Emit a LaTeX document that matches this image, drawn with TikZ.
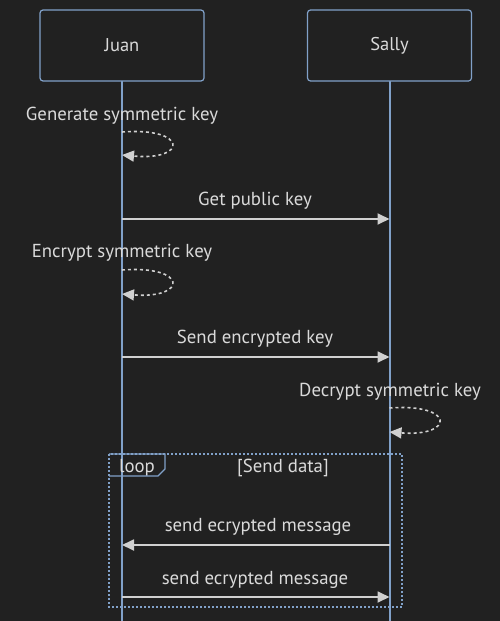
\documentclass[tikz,border=0pt]{standalone}
\usepackage{fontspec}
\setmainfont{PT Sans}
\usetikzlibrary{arrows.meta}
\definecolor{bg}{HTML}{212121}
\definecolor{actorline}{HTML}{81A1C9}
\definecolor{txt}{HTML}{DADADA}
\definecolor{msg}{HTML}{D0D0D0}
\tikzset{
  actor/.style={draw=actorline, line width=1.2pt, rounded corners=3pt, fill=bg, minimum width=164pt, minimum height=71pt, text=txt, font=\fontsize{18.5}{21}\selectfont, inner sep=0pt},
  life/.style={draw=actorline, line width=2pt},
  lbl/.style={text=txt, font=\fontsize{18.8}{21}\selectfont, inner sep=0pt},
  msgline/.style={draw=msg, line width=1.8pt, -{Triangle[length=12pt,width=11pt]}},
  selfloop/.style={draw=msg, line width=1.6pt, dash pattern=on 3pt off 3pt, -{Triangle[length=12pt,width=11pt]}},
  loopbox/.style={draw=actorline, line width=2pt, dash pattern=on 2pt off 2pt},
}
\begin{document}
\begin{tikzpicture}[x=1pt,y=-1pt]
\fill[bg] (0,0) rectangle (500,621);
\useasboundingbox (0,0) rectangle (500,621);
% lifelines
\coordinate (jt) at (122,81);
\coordinate (st) at (389.5,81);
\coordinate (jb) at (122,621);
\coordinate (sb) at (389.5,621);
\draw[life] (jt) -- (jb);
\draw[life] (st) -- (sb);
\node[actor] (juan) at (122,45.5) {Juan};
\node[actor] (sally) at (389.5,45.5) {Sally};

% loop frame
\draw[loopbox] (109,454) rectangle (402,607);
\node[lbl] (loopkw) at (137,468) {loop};
\draw[draw=actorline, line width=1.2pt] (109,454) -- (165,454) -- (165,469) -- (158,476) -- (109,476);
\node[lbl] (cond) at (283,468) {[Send data]};

% message 1 self
\coordinate (g1) at (122,132);
\coordinate (g2) at (122,155);
\node[lbl] (gen) at (122,115.5) {Generate symmetric key};
\draw[selfloop] (g1) .. controls (188,127) and (188,161) .. (g2);

% message 2
\coordinate (p1) at (122,219);
\coordinate (p2) at (389.5,219);
\node[lbl] (getpk) at (255,200.5) {Get public key};
\draw[msgline] (p1) -- (p2);

% message 3 self
\coordinate (e1) at (122,270);
\coordinate (e2) at (122,294);
\node[lbl] (enc) at (122,253) {Encrypt symmetric key};
\draw[selfloop] (e1) .. controls (188,265) and (188,299) .. (e2);

% message 4
\coordinate (k1) at (122,357);
\coordinate (k2) at (389.5,357);
\node[lbl] (sendkey) at (255,338.5) {Send encrypted key};
\draw[msgline] (k1) -- (k2);

% message 5 self
\coordinate (d1) at (389.5,408);
\coordinate (d2) at (389.5,432);
\node[lbl] (dec) at (390,391.5) {Decrypt symmetric key};
\draw[selfloop] (d1) .. controls (455,403) and (455,437) .. (d2);

% loop messages
\coordinate (m1a) at (389.5,545);
\coordinate (m1b) at (122,545);
\node[lbl] (msg1) at (258,526.5) {send ecrypted message};
\draw[msgline] (m1a) -- (m1b);

\coordinate (m2a) at (122,597);
\coordinate (m2b) at (389.5,597);
\node[lbl] (msg2) at (255,579.5) {send ecrypted message};
\draw[msgline] (m2a) -- (m2b);
\end{tikzpicture}
\end{document}
